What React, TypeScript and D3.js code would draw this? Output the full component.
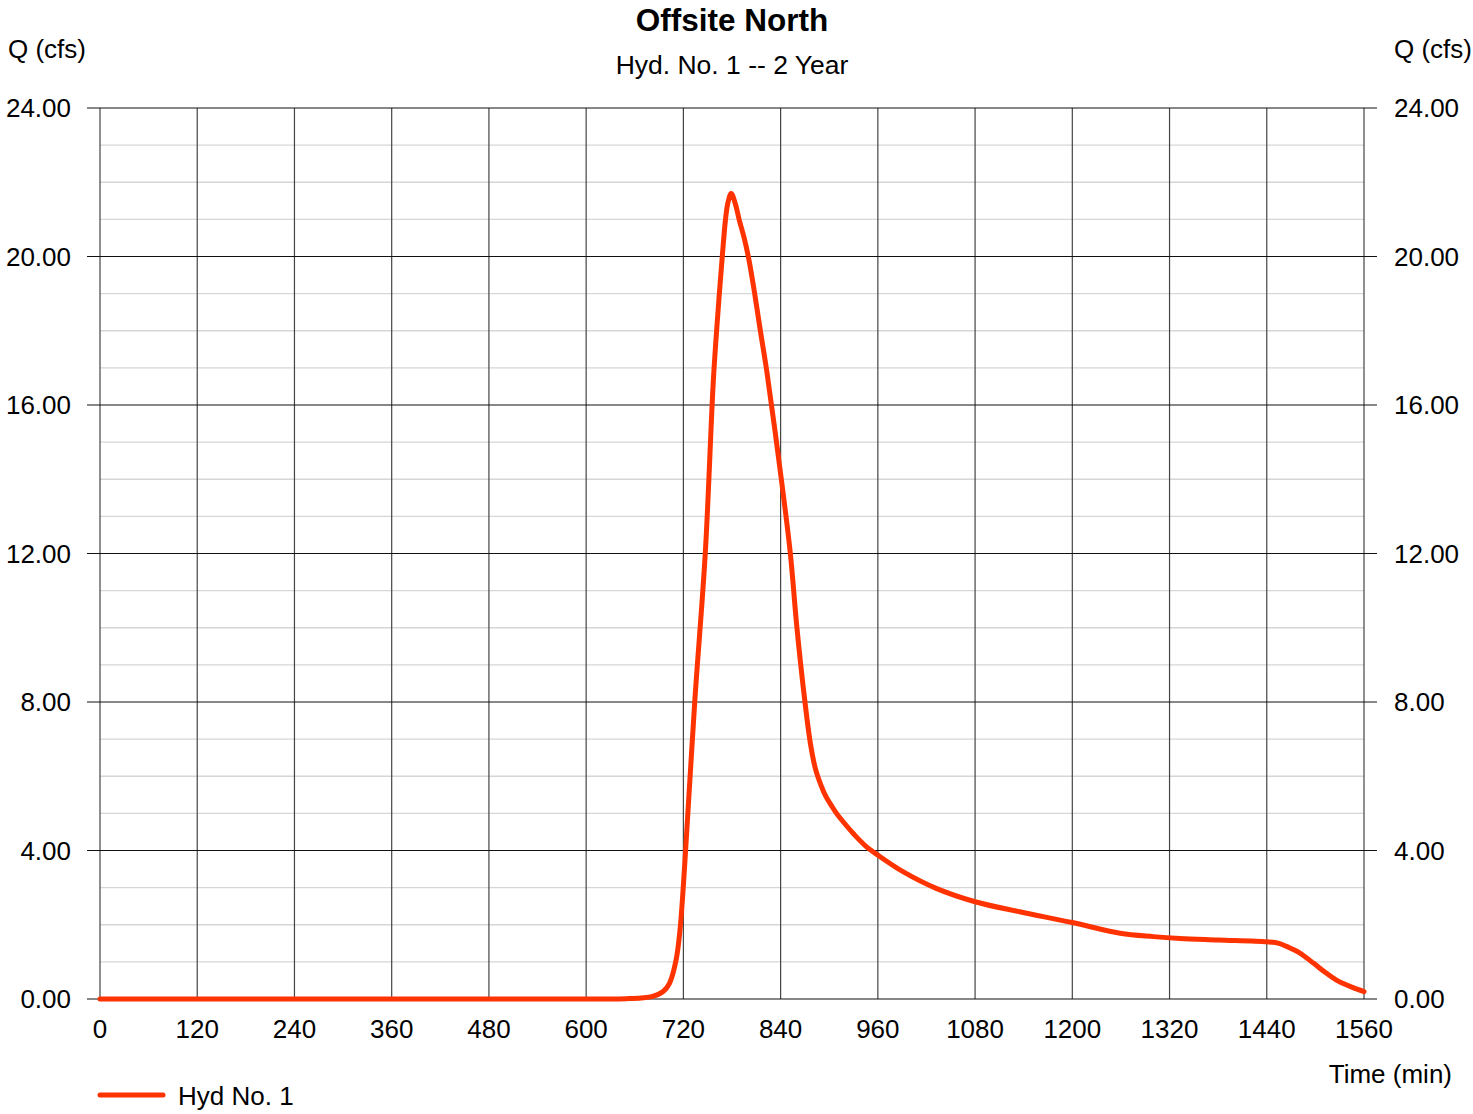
import React from "react";
import * as d3 from "d3";

const title = "Offsite North";
const subtitle = "Hyd. No. 1 -- 2 Year";
const yLabel = "Q (cfs)";
const xLabel = "Time (min)";
const seriesName = "Hyd No. 1";

const xTicks = [0, 120, 240, 360, 480, 600, 720, 840, 960, 1080, 1200, 1320, 1440, 1560];
const yTicks = [0, 4, 8, 12, 16, 20, 24];
const yMinor = d3.range(0, 25, 1);

const times = [
  0, 300, 630, 650, 668, 682, 695, 703, 711, 716, 722, 734, 747, 757, 762, 768, 772, 775, 779,
  784, 789, 795, 801, 808, 815, 823, 841, 852, 860, 870, 877, 883, 890, 896, 903, 909, 920,
  930, 945, 961, 991, 1032, 1080, 1135, 1200, 1259, 1300, 1333, 1380, 1440, 1455, 1465, 1480,
  1498, 1512, 1526, 1545, 1560,
];
const flows = [
  0, 0, 0, 0.01, 0.03, 0.07, 0.2, 0.43, 1.05, 1.9, 3.74, 8.0, 12.0, 16.67, 18.3, 20.0, 21.0,
  21.45, 21.7, 21.43, 20.98, 20.5, 19.9, 19.0, 18.0, 16.9, 13.98, 12.0, 10.03, 8.01, 6.85,
  6.2, 5.75, 5.45, 5.2, 5.0, 4.7, 4.45, 4.12, 3.86, 3.43, 2.98, 2.62, 2.35, 2.06, 1.77,
  1.68, 1.63, 1.59, 1.54, 1.5, 1.41, 1.25, 0.96, 0.72, 0.51, 0.32, 0.2,
];

export default function App() {
  const W = 1473;
  const H = 1114;
  const m = { left: 100, right: 1364, top: 108, bottom: 999 };
  const x = d3.scaleLinear().domain([0, 1560]).range([m.left, m.right]);
  const y = d3.scaleLinear().domain([0, 24]).range([m.bottom, m.top]);
  const data = times.map((t, i) => [t, flows[i]] as [number, number]);
  const line = d3
    .line<[number, number]>()
    .x((d) => x(d[0]))
    .y((d) => y(d[1]))
    .curve(d3.curveCatmullRom.alpha(0.5));
  const font = "'Liberation Sans', Arial, sans-serif";
  const fs = 26;

  return (
    <svg
      width={W}
      height={H}
      style={{ position: "absolute", left: 0, top: 0, background: "#fff" }}
      fontFamily={font}
    >
      <rect x={0} y={0} width={W} height={H} fill="#fff" />
      {yMinor
        .filter((v) => v % 4 !== 0)
        .map((v) => (
          <line key={"mn" + v} x1={m.left} x2={m.right} y1={y(v)} y2={y(v)} stroke="#d6d6d6" strokeWidth={1.3} />
        ))}
      {xTicks.map((t) => (
        <line key={"vx" + t} x1={x(t)} x2={x(t)} y1={m.top} y2={m.bottom} stroke="#444" strokeWidth={1.2} />
      ))}
      {yTicks.map((v) => (
        <line key={"hy" + v} x1={m.left - 13} x2={m.right + 13} y1={y(v)} y2={y(v)} stroke="#111" strokeWidth={1.2} />
      ))}
      <path d={line(data) || ""} fill="none" stroke="#ff3300" strokeWidth={5} strokeLinejoin="round" strokeLinecap="round" />

      {yTicks.map((v) => (
        <text key={"yl" + v} x={71} y={y(v)} dy="0.36em" textAnchor="end" fontSize={fs} fill="#000">
          {v.toFixed(2)}
        </text>
      ))}
      {yTicks.map((v) => (
        <text key={"yr" + v} x={1394} y={y(v)} dy="0.36em" textAnchor="start" fontSize={fs} fill="#000">
          {v.toFixed(2)}
        </text>
      ))}
      {xTicks.map((t) => (
        <text key={"xl" + t} x={x(t)} y={1029} dy="0.36em" textAnchor="middle" fontSize={fs} fill="#000">
          {t}
        </text>
      ))}
      <text x={732} y={20} dy="0.36em" textAnchor="middle" fontSize={31.5} fontWeight="bold" fill="#000">
        {title}
      </text>
      <text x={732} y={64} dy="0.36em" textAnchor="middle" fontSize={26.5} fill="#000">
        {subtitle}
      </text>
      <text x={8} y={49} dy="0.36em" textAnchor="start" fontSize={fs} fill="#000">
        {yLabel}
      </text>
      <text x={1472} y={49} dy="0.36em" textAnchor="end" fontSize={fs} fill="#000">
        {yLabel}
      </text>
      <text x={1452} y={1074} dy="0.36em" textAnchor="end" fontSize={fs} fill="#000">
        {xLabel}
      </text>
      <line x1={100} x2={163} y1={1095} y2={1095} stroke="#ff3300" strokeWidth={5} strokeLinecap="round" />
      <text x={178} y={1096} dy="0.36em" textAnchor="start" fontSize={fs} fill="#000">
        {seriesName}
      </text>
    </svg>
  );
}
